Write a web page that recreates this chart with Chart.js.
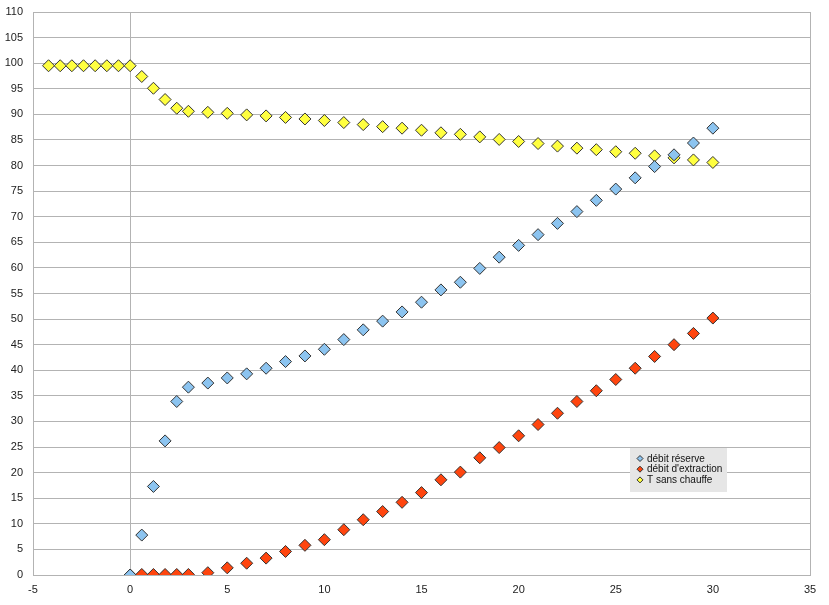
<!DOCTYPE html>
<html lang="fr">
<head>
<meta charset="UTF-8">
<title>débit / T sans chauffe</title>
<script src="https://cdn.jsdelivr.net/npm/chart.js"></script>
<style>
body { margin:0; padding:0; background:#fff; }
#chart { display:block; }
</style>
</head>
<body>
<canvas id="chart" width="829" height="605"></canvas>
<script>
// abscisses communes (temps)
const xValues = [-4.2, -3.6, -3, -2.4, -1.8, -1.2, -0.6, 0, 0.6, 1.2, 1.8, 2.4, 3,
  4, 5, 6, 7, 8, 9, 10, 11, 12, 13, 14, 15, 16, 17, 18, 19, 20,
  21, 22, 23, 24, 25, 26, 27, 28, 29, 30];

// séries (null = pas de point)
const debitReserve = [null, null, null, null, null, null, null,
  0, 7.8, 17.3, 26.2, 33.9, 36.7,
  37.5, 38.5, 39.3, 40.4, 41.7, 42.8, 44.1, 46.0, 47.9, 49.6, 51.4, 53.3, 55.7, 57.2, 59.9,
  62.1, 64.4, 66.5, 68.7, 71.0, 73.2, 75.4, 77.6, 79.8, 82.1, 84.4, 87.3];
const debitExtraction = [null, null, null, null, null, null, null,
  0, 0.1, 0.1, 0.1, 0.1, 0.1,
  0.45, 1.4, 2.3, 3.3, 4.6, 5.8, 6.9, 8.85, 10.8, 12.4, 14.2, 16.1, 18.6, 20.1, 22.9,
  24.9, 27.2, 29.4, 31.6, 33.9, 36.0, 38.2, 40.4, 42.7, 45.0, 47.2, 50.2];
const tSansChauffe = [99.5, 99.5, 99.5, 99.5, 99.5, 99.5, 99.5,
  99.5, 97.4, 95.1, 92.9, 91.2, 90.6,
  90.4, 90.2, 89.9, 89.7, 89.4, 89.1, 88.8, 88.4, 88.0, 87.6, 87.3, 86.9, 86.4, 86.1, 85.6,
  85.1, 84.7, 84.3, 83.8, 83.4, 83.1, 82.7, 82.4, 81.9, 81.5, 81.1, 80.6];

const labels = ['débit réserve', "débit d'extraction", 'T sans chauffe'];
const colors = ['#8cc4f0', '#ff450e', '#ffff40'];

const xMin = -5, xMax = 35, xStep = 5;
const yMin = 0, yMax = 110, yStep = 5;

const toPoints = ys => xValues.map((x, i) => ({x: x, y: ys[i]})).filter(p => p.y !== null);

const gridGrey = '#b3b3b3';
const font = {family: 'Arial, "Liberation Sans", sans-serif', size: 11};

// légende dessinée dans la zone du graphique
const boxLegend = {
  id: 'boxLegend',
  afterDraw(chart) {
    const ctx = chart.ctx;
    ctx.save();
    ctx.fillStyle = '#e6e6e6';
    ctx.fillRect(630, 448, 97, 44);
    ctx.font = '10px Arial, "Liberation Sans", sans-serif';
    ctx.textBaseline = 'middle';
    chart.data.datasets.forEach((ds, i) => {
      const y = 458.5 + i * 10.7;
      ctx.beginPath();
      ctx.moveTo(640, y - 3);
      ctx.lineTo(643, y);
      ctx.lineTo(640, y + 3);
      ctx.lineTo(637, y);
      ctx.closePath();
      ctx.fillStyle = ds.backgroundColor;
      ctx.fill();
      ctx.strokeStyle = '#333';
      ctx.lineWidth = 1;
      ctx.stroke();
      ctx.fillStyle = '#111';
      ctx.fillText(ds.label, 647, y + 0.5);
    });
    ctx.restore();
  }
};

const series = [debitReserve, debitExtraction, tSansChauffe];

new Chart(document.getElementById('chart'), {
  type: 'scatter',
  data: {
    datasets: series.map((s, i) => ({
      label: labels[i],
      data: toPoints(s),
      backgroundColor: colors[i],
      borderColor: '#333',
      borderWidth: 1,
      pointStyle: 'rectRot',
      pointRadius: 6,
      pointHoverRadius: 6,
      showLine: false
    }))
  },
  options: {
    responsive: false,
    animation: false,
    layout: { padding: {top: 12, right: 19, left: 0, bottom: 0} },
    plugins: { legend: {display: false}, tooltip: {enabled: false} },
    scales: {
      x: {
        type: 'linear', min: xMin, max: xMax,
        ticks: { stepSize: xStep, font: font, color: '#222', padding: 8 },
        grid: {
          drawTicks: false,
          color: c => (c.tick && (c.tick.value === 0 || c.tick.value === xMax)) ? gridGrey : 'rgba(0,0,0,0)'
        },
        border: { color: gridGrey },
        afterFit: s => { s.height = 30; s.paddingLeft = 0; s.paddingRight = 0; }
      },
      y: {
        type: 'linear', min: yMin, max: yMax,
        ticks: { stepSize: yStep, font: font, color: '#222', padding: 10 },
        grid: { drawTicks: false, color: gridGrey },
        border: { color: gridGrey },
        afterFit: s => { s.width = 33; s.paddingTop = 0; s.paddingBottom = 0; }
      }
    }
  },
  plugins: [boxLegend]
});
</script>
</body>
</html>
